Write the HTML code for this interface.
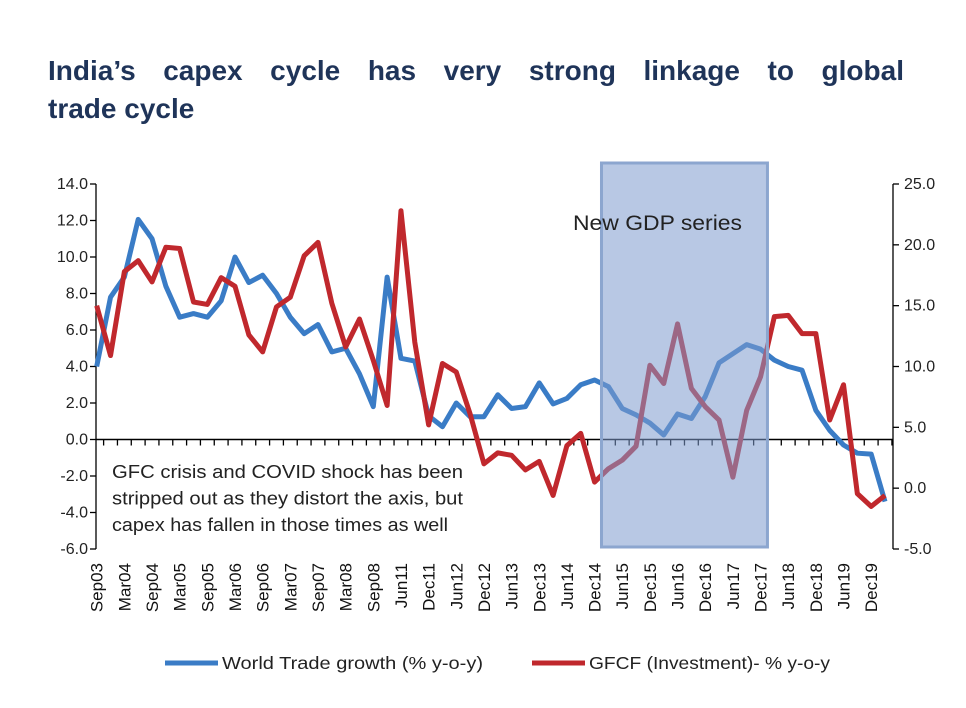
<!DOCTYPE html>
<html><head><meta charset="utf-8">
<style>
body{margin:0;background:#fff;width:966px;height:708px;overflow:hidden;}
.tl{position:absolute;left:48px;width:856px;font-family:"Liberation Sans",sans-serif;font-weight:bold;font-size:28px;line-height:38px;color:#1f3459;white-space:nowrap;}
#t1{top:52px;text-align:justify;text-align-last:justify;}
#t2{top:90px;}
svg{position:absolute;left:0;top:0;}
</style></head><body>
<div id="t1" class="tl">India’s capex cycle has very strong linkage to global</div>
<div id="t2" class="tl">trade cycle</div>
<svg id="chart" width="966" height="708"></svg>
<script>
const categories=["Sep03","Dec03","Mar04","Jun04","Sep04","Dec04","Mar05","Jun05","Sep05","Dec05","Mar06","Jun06","Sep06","Dec06","Mar07","Jun07","Sep07","Dec07","Mar08","Jun08","Sep08","Mar11","Jun11","Sep11","Dec11","Mar12","Jun12","Sep12","Dec12","Mar13","Jun13","Sep13","Dec13","Mar14","Jun14","Sep14","Dec14","Mar15","Jun15","Sep15","Dec15","Mar16","Jun16","Sep16","Dec16","Mar17","Jun17","Sep17","Dec17","Mar18","Jun18","Sep18","Dec18","Mar19","Jun19","Sep19","Dec19","Mar20"];
const worldTrade=[4.0,7.8,8.9,12.06,11.0,8.4,6.7,6.9,6.7,7.6,10.0,8.6,9.0,8.0,6.7,5.8,6.3,4.8,5.0,3.6,1.8,8.9,4.45,4.3,1.3,0.7,2.0,1.25,1.25,2.45,1.7,1.8,3.1,1.95,2.25,3.0,3.26,2.9,1.7,1.35,0.9,0.25,1.4,1.15,2.35,4.2,4.7,5.2,4.95,4.35,4.0,3.8,1.6,0.5,-0.3,-0.75,-0.8,-3.4];
const gfcf=[15.0,10.9,17.8,18.7,16.95,19.8,19.7,15.3,15.1,17.3,16.6,12.6,11.2,14.9,15.7,19.1,20.2,15.2,11.6,13.9,10.5,6.8,22.8,12.0,5.2,10.25,9.55,6.1,2.0,2.9,2.7,1.5,2.2,-0.6,3.5,4.5,0.5,1.6,2.3,3.45,10.1,8.6,13.5,8.2,6.7,5.6,0.9,6.4,9.15,14.1,14.2,12.7,12.7,5.6,8.5,-0.45,-1.5,-0.6];
const leftTicks=[14,12,10,8,6,4,2,0,-2,-4,-6];
const rightTicks=[25,20,15,10,5,0,-5];
const shadeStartIdx=36.5, shadeEndIdx=48.5;

const NS="http://www.w3.org/2000/svg";
const svg=document.getElementById('chart');
const plotTop=184,plotBot=549,axL=96,axR=893;
const x0=96.7,dx=13.83;
const xS=i=>x0+i*dx;
const yL=v=>plotTop+(14-v)/20*(plotBot-plotTop);
const yR=v=>plotTop+(25-v)/30*(plotBot-plotTop);
function mk(t,a,p){const e=document.createElementNS(NS,t);for(const k in a)e.setAttribute(k,a[k]);(p||svg).appendChild(e);return e;}
const font='"Liberation Sans",sans-serif';

let e=mk('line',{x1:axL,y1:plotTop,x2:axL,y2:plotBot,stroke:'#000','stroke-width':1.3});


e=mk('line',{x1:axR,y1:plotTop,x2:axR,y2:plotBot,stroke:'#000','stroke-width':1.3});


leftTicks.forEach(v=>{
  mk('line',{x1:axL-6,y1:yL(v),x2:axL,y2:yL(v),stroke:'#000','stroke-width':1.3});
  const t=mk('text',{x:axL-8,y:yL(v)+5,'text-anchor':'end','font-family':font,'font-size':16,fill:'#222'});
  t.textContent=v.toFixed(1);
  
  
});
rightTicks.forEach(v=>{
  mk('line',{x1:axR,y1:yR(v),x2:axR+6,y2:yR(v),stroke:'#000','stroke-width':1.3});
  const t=mk('text',{x:axR+11,y:yR(v)+5,'font-family':font,'font-size':16,fill:'#222'});
  t.textContent=v.toFixed(1);
  
  
});
const y0=yL(0);
e=mk('line',{x1:axL,y1:y0,x2:axR,y2:y0,stroke:'#000','stroke-width':1.5});


for(let i=0;i<=categories.length;i++){
  const xx=x0+(i-0.5)*dx; if(xx<axL||xx>axR)continue;
  mk('line',{x1:xx,y1:y0,x2:xx,y2:y0+6,stroke:'#000','stroke-width':1.3});
}
categories.forEach((c,i)=>{
  if(i%2)return;
  const xx=xS(i)+6;
  const t=mk('text',{x:xx,y:563,transform:`rotate(-90 ${xx} 563)`,'text-anchor':'end','font-family':font,'font-size':17,fill:'#111'});
  t.textContent=c;
  
  
});
function line(data,ys,col,name){
  const p=mk('polyline',{points:data.map((v,i)=>xS(i)+','+ys(v)).join(' '),fill:'none',stroke:col,'stroke-width':5,'stroke-linejoin':'round'});
  
  
}
line(worldTrade,yL,'#3a7cc6','world-trade-line');
line(gfcf,yR,'#c0282d','gfcf-line');
const sx=xS(shadeStartIdx), ex=xS(shadeEndIdx);
e=mk('rect',{x:sx,y:163,width:ex-sx,height:384,fill:'rgb(125,155,205)','fill-opacity':0.55,stroke:'#8ca6cf','stroke-width':3});


e=mk('text',{x:573,y:230,'font-family':font,'font-size':21,fill:'#222',textLength:169,lengthAdjust:'spacingAndGlyphs'});
e.textContent='New GDP series';


const annLens=[351,351,336];
['GFC crisis and COVID shock has been','stripped out as they distort the axis, but','capex has fallen in those times as well'].forEach((s,i)=>{
  const t=mk('text',{x:112,y:478+i*26.5,'font-family':font,'font-size':18,fill:'#222',textLength:annLens[i],lengthAdjust:'spacingAndGlyphs'});
  t.textContent=s;
  
  
});
e=mk('line',{x1:165,y1:663,x2:218,y2:663,stroke:'#3a7cc6','stroke-width':5});


e=mk('text',{x:222,y:669,'font-family':font,'font-size':17.5,fill:'#222',textLength:261,lengthAdjust:'spacingAndGlyphs'});
e.textContent='World Trade growth (% y-o-y)';


e=mk('line',{x1:532,y1:663,x2:585,y2:663,stroke:'#c0282d','stroke-width':5});


e=mk('text',{x:589,y:669,'font-family':font,'font-size':17.5,fill:'#222',textLength:241,lengthAdjust:'spacingAndGlyphs'});
e.textContent='GFCF (Investment)- % y-o-y';


</script>
</body></html>
